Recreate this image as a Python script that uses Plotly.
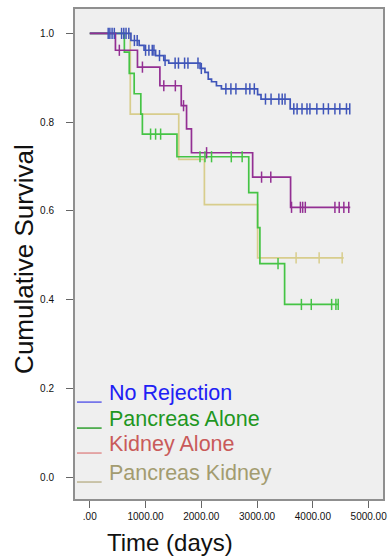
import numpy as np
import plotly.graph_objects as go

# Kaplan-Meier step data: event times (days) and survival after each step
nr_t = [0, 738, 885, 973, 1180, 1327, 1416, 1977, 2065, 2124, 2183, 2271, 2360, 3009, 3070, 3593]
nr_s = [1.0, 0.984, 0.973, 0.962, 0.950, 0.939, 0.933, 0.921, 0.912, 0.897, 0.891, 0.882, 0.875, 0.862, 0.852, 0.830]
nr_end = 4661
nr_cens = [330, 360, 400, 440, 570, 610, 650, 700, 800, 850, 1000, 1060, 1120, 1150, 1250,
           1350, 1530, 1590, 1700, 1760, 1940, 2000, 2440, 2530, 2620, 2800, 2870, 2950,
           3150, 3250, 3390, 3450, 3500, 3658, 3717, 3805, 3894, 3947, 4071, 4189, 4278,
           4395, 4483, 4602, 4661]

pa_t = [0, 620, 708, 796, 915, 943, 1563, 2850, 3009, 3050, 3493]
pa_s = [1.0, 0.958, 0.910, 0.864, 0.818, 0.773, 0.722, 0.641, 0.562, 0.481, 0.389]
pa_end = 4454
pa_cens = [1090, 1180, 1270, 1976, 2065, 2183, 2537, 2732, 3375, 3794, 3971, 4336, 4413, 4454]

ka_t = [0, 460, 855, 1257, 1640, 1735, 1823, 2920, 3600]
ka_s = [1.0, 0.962, 0.924, 0.882, 0.837, 0.785, 0.731, 0.676, 0.608]
ka_end = 4670
ka_cens = [530, 944, 1327, 1534, 1681, 2094, 3080, 3245, 3617, 3776, 3817, 3864, 4395,
           4472, 4555, 4643]

pk_t = [0, 726, 1595, 2055, 3009]
pk_s = [1.0, 0.818, 0.716, 0.614, 0.494]
pk_end = 4552
pk_cens = [3699, 4112, 4525]

x_ticks = [0, 1000, 2000, 3000, 4000, 5000]
x_ticklabels = [".00", "1000.00", "2000.00", "3000.00", "4000.00", "5000.00"]
y_ticks = [0.0, 0.2, 0.4, 0.6, 0.8, 1.0]
y_ticklabels = ["0.0", "0.2", "0.4", "0.6", "0.8", "1.0"]

legend_labels = ["No Rejection", "Pancreas Alone", "Kidney Alone", "Pancreas Kidney"]
legend_text_colors = ["#2020f5", "#1f971f", "#c95a5a", "#a39c70"]
legend_line_colors = ["#6060e8", "#2f9f2f", "#e09090", "#bdb592"]

W, H = 390, 558
L, R, T, B = 75, 387, 8.5, 499

series = [
    # (times, surv, end, censored, colour) - drawn in this order
    (pk_t, pk_s, pk_end, pk_cens, "#d8cd8c"),
    (pa_t, pa_s, pa_end, pa_cens, "#45c445"),
    (nr_t, nr_s, nr_end, nr_cens, "#3f55b9"),
    (ka_t, ka_s, ka_end, ka_cens, "#932f93"),
]

fig = go.Figure()
for t, s, end, cens, col in series:
    xs = list(t) + [end]
    ys = list(s) + [s[-1]]
    fig.add_trace(go.Scatter(x=xs, y=ys, mode="lines", line=dict(color=col, width=1.7, shape="hv"),
                             showlegend=False, hoverinfo="skip"))
for t, s, end, cens, col in series:
    idx = np.searchsorted(np.array(t), np.array(cens), side="right") - 1
    cy = np.array(s)[idx]
    fig.add_trace(go.Scatter(x=cens, y=cy, mode="markers",
                             marker=dict(symbol="line-ns-open", size=8, color=col,
                                         line=dict(color=col, width=1.5)),
                             showlegend=False, hoverinfo="skip"))


def px(xp):
    return (xp - L) / (R - L)


def py(yp):
    return (B - yp) / (B - T)


# legend block drawn as coloured rules plus coloured text
leg_text_y = [393, 419, 444, 473]
leg_line_y = [402, 428, 453, 482]
for lab, tc, lc, ty, ly in zip(legend_labels, legend_text_colors, legend_line_colors, leg_text_y, leg_line_y):
    fig.add_shape(type="line", xref="paper", yref="paper", x0=px(77), x1=px(102), y0=py(ly), y1=py(ly),
                  line=dict(color=lc, width=1.5))
    fig.add_annotation(text=lab, xref="paper", yref="paper", x=px(107), y=py(ty), xanchor="left",
                       yanchor="middle", showarrow=False,
                       font=dict(family="Liberation Sans, Arial, sans-serif", size=21.5, color=tc))

fig.add_annotation(text="Cumulative Survival", xref="paper", yref="paper", x=px(24), y=py(259),
                   textangle=-90, xanchor="center", yanchor="middle", showarrow=False,
                   font=dict(family="Liberation Sans, Arial, sans-serif", size=26, color="#111"))
fig.add_annotation(text="Time (days)", xref="paper", yref="paper", x=px(171), y=py(543),
                   xanchor="center", yanchor="middle", showarrow=False,
                   font=dict(family="Liberation Sans, Arial, sans-serif", size=24, color="#111"))

fig.update_layout(
    width=W, height=H,
    margin=dict(l=L, r=W - R, t=T, b=H - B),
    paper_bgcolor="white", plot_bgcolor="#efefef",
    showlegend=False,
)
fig.update_xaxes(range=[-265, 5257], tickvals=x_ticks, ticktext=x_ticklabels,
                 showgrid=False, zeroline=False, showline=True, mirror=True,
                 linecolor="#8f8f8f", linewidth=2, ticks="outside", ticklen=7, tickcolor="#666",
                 tickfont=dict(family="Liberation Sans Narrow, Arial Narrow, Liberation Sans, sans-serif",
                               size=10, color="#111"))
fig.update_yaxes(range=[-0.0495, 1.055], tickvals=y_ticks, ticktext=y_ticklabels,
                 showgrid=False, zeroline=False, showline=True, mirror=True,
                 linecolor="#8f8f8f", linewidth=2, ticks="outside", ticklen=7, tickcolor="#666",
                 ticklabelstandoff=10,
                 tickfont=dict(family="Liberation Sans, Arial, sans-serif", size=10, color="#111"))

fig.write_html("out.html")
